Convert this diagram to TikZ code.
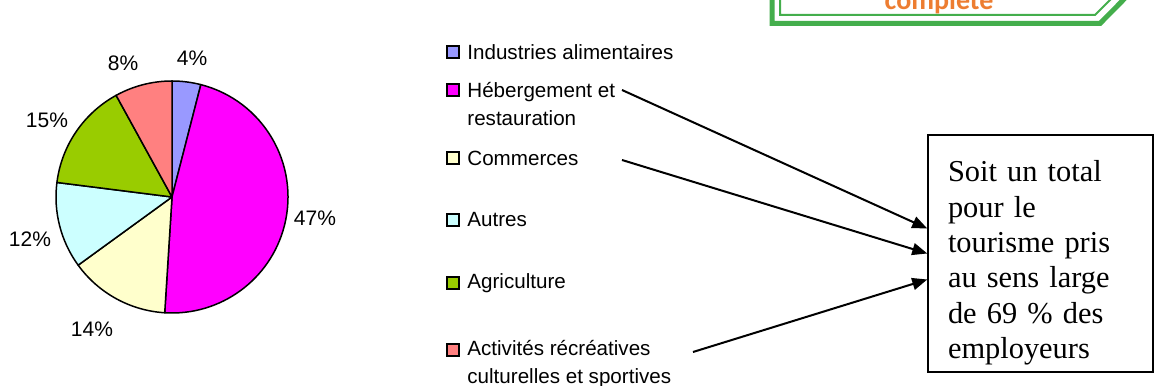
\documentclass[tikz,border=0pt]{standalone}
\usepackage{fontspec}
\setmainfont{Liberation Serif}
\setsansfont{Liberation Sans}
\newfontfamily\calibrifont{Carlito}
\usetikzlibrary{arrows.meta}
\definecolor{lavender}{HTML}{9999FF}
\definecolor{magenta}{HTML}{FF00FF}
\definecolor{paleyellow}{HTML}{FFFFCC}
\definecolor{palecyan}{HTML}{CCFFFF}
\definecolor{leafgreen}{HTML}{99CC00}
\definecolor{salmon}{HTML}{FF8080}
\definecolor{framegreen}{HTML}{44AE4C}
\definecolor{titleorange}{HTML}{ED7D31}

\begin{document}
\begin{tikzpicture}[x=0.5pt, y=0.5pt,
    slice/.style={draw=black, line width=0.75pt, line join=round},
    swatch/.style={draw=black, line width=0.6pt, minimum size=6pt, inner sep=0pt},
    legend/.style={anchor=west, inner sep=0pt, align=left, font=\sffamily\fontsize{10.3}{14}\selectfont},
    pct/.style={inner sep=0pt, font=\sffamily\fontsize{10.5}{12}\selectfont},
    totalbox/.style={draw=black, line width=0.75pt, align=left, text width=92.5pt,
      inner xsep=10pt, minimum height=118.5pt, font=\fontsize{15.2}{17.7}\selectfont},
    arrow/.style={line width=1pt, -{Triangle[length=7.5pt, width=6pt]}}]

    \useasboundingbox (0, 0) rectangle (1155, 385);

    % frame at the top
    \draw [framegreen, line width=2.5pt] (772, 400) -- (772, 361.5) -- (1100, 361.5) -- (1138, 400);
    \draw [framegreen, line width=1pt] (780, 400) -- (780, 370) -- (1095, 370) -- (1125, 400);
    \node (title) [anchor=base, inner sep=0pt, text=titleorange, font=\calibrifont\bfseries\fontsize{14}{16}\selectfont] at (939, 375) {complete};

    % pie
    \coordinate (pie) at (172, 188);
    \filldraw [slice, fill=lavender] (pie) -- ++(90:58pt) arc (90:75.6:58pt) -- cycle;
    \filldraw [slice, fill=magenta] (pie) -- ++(75.6:58pt) arc (75.6:-93.6:58pt) -- cycle;
    \filldraw [slice, fill=paleyellow] (pie) -- ++(-93.6:58pt) arc (-93.6:-144:58pt) -- cycle;
    \filldraw [slice, fill=palecyan] (pie) -- ++(-144:58pt) arc (-144:-187.2:58pt) -- cycle;
    \filldraw [slice, fill=leafgreen] (pie) -- ++(-187.2:58pt) arc (-187.2:-241.2:58pt) -- cycle;
    \filldraw [slice, fill=salmon] (pie) -- ++(-241.2:58pt) arc (-241.2:-270:58pt) -- cycle;

    \node (p4) [pct] at (192, 327) {4\%};
    \node (p47) [pct] at (315, 167) {47\%};
    \node (p14) [pct] at (92, 56) {14\%};
    \node (p12) [pct] at (30, 146) {12\%};
    \node (p15) [pct] at (47, 265) {15\%};
    \node (p8) [pct] at (123, 322) {8\%};

    % legend
    \node (s1) [swatch, fill=lavender] at (453, 333) {};
    \node (s2) [swatch, fill=magenta] at (453, 295) {};
    \node (s3) [swatch, fill=paleyellow] at (453, 227) {};
    \node (s4) [swatch, fill=palecyan] at (453, 165) {};
    \node (s5) [swatch, fill=leafgreen] at (453, 102) {};
    \node (s6) [swatch, fill=salmon] at (453, 35) {};

    \node (l1) [legend] at (467, 333) {Industries alimentaires};
    \node (l2) [legend] at (467, 281) {Hébergement et\\restauration};
    \node (l3) [legend] at (467, 227) {Commerces};
    \node (l4) [legend] at (467, 165) {Autres};
    \node (l5) [legend] at (467, 102) {Agriculture};
    \node (l6) [legend] at (467, 21) {Activités récréatives\\culturelles et sportives};

    % box and arrows
    \node (total) [totalbox] at (1040.5, 131.5) {\rule{0pt}{20pt}Soit un total\\pour le\\tourisme pris\\au sens large\\de 69 \% des\\employeurs};

    \coordinate (h) at (622, 295);
    \coordinate (c) at (622, 225);
    \coordinate (r) at (693, 33);
    \coordinate (t1) at ([yshift=12.5pt]total.west);
    \coordinate (t3) at ([yshift=-13pt]total.west);

    \draw [arrow] (h) to (t1);
    \draw [arrow] (c) to (total.west);
    \draw [arrow] (r) to (t3);

  \end{tikzpicture}
\end{document}
